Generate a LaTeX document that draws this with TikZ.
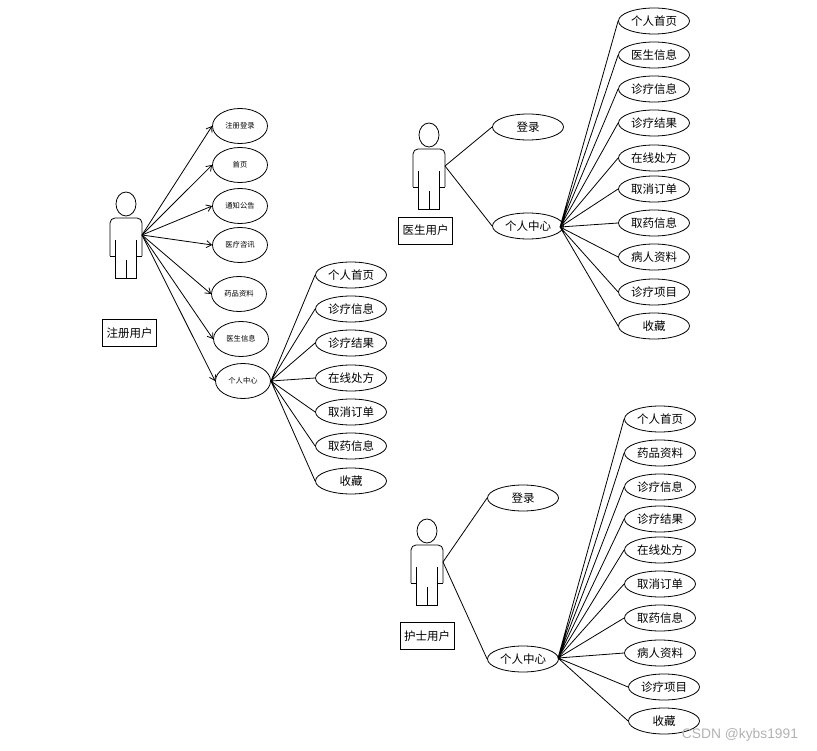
\documentclass[tikz,border=0pt]{standalone}
\usepackage{fontspec}
\setmainfont{Noto Sans CJK SC}
\newfontfamily\markfont{Liberation Sans}
\usetikzlibrary{shapes.geometric, arrows.meta}

\begin{document}
\begin{tikzpicture}[x=1pt, y=-1pt, line width=0.8pt,
    uc/.style={draw, ellipse, inner sep=0pt, minimum width=71pt, minimum height=26pt, font=\fontsize{11.5}{12}\selectfont},
    ucs/.style={draw, ellipse, inner sep=0pt, minimum width=55pt, minimum height=35pt, font=\fontsize{7.3}{8}\selectfont},
    role/.style={draw, inner sep=0pt, minimum width=54pt, minimum height=27pt, font=\fontsize{11.5}{12}\selectfont},
    actor/.pic={
        \draw (0,0) ellipse (10pt and 12pt);
        \draw[rounded corners=5pt] (-16,52) -- (-16,14) -- (16,14) -- (16,52);
        \draw (-16,52) -- (-11,52) (-11,36) -- (-11,74) -- (10,74) -- (10,36) (10,52) -- (16,52) (0,56) -- (0,74);
    },
    open/.style={-{Straight Barb[length=5pt, width=7pt]}}]
    \useasboundingbox (0,0) rectangle (817,751);

    % registered user
    \pic at (126,204) {actor};
    \coordinate (h1) at (142,235);
    \node[role] (r1) at (129.5,333) {注册用户};
    \node[ucs] (a1) at (240,126) {注册登录}; \node[ucs] (a2) at (240,165) {首页}; \node[ucs] (a3) at (240,206) {通知公告}; \node[ucs] (a4) at (240,245) {医疗咨讯};
    \node[ucs] (a5) at (239,294) {药品资料}; \node[ucs] (a6) at (241,339) {医生信息}; \node[ucs] (a7) at (243,381) {个人中心};
    \node[uc] (p1) at (351,275) {个人首页}; \node[uc] (p2) at (351,309) {诊疗信息}; \node[uc] (p3) at (351,343) {诊疗结果}; \node[uc] (p4) at (351,378) {在线处方};
    \node[uc] (p5) at (351,412) {取消订单}; \node[uc] (p6) at (351,446) {取药信息}; \node[uc] (p7) at (351,481) {收藏};
    \draw[open] (h1)--(a1.west); \draw[open] (h1)--(a2.west); \draw[open] (h1)--(a3.west); \draw[open] (h1)--(a4.west);
    \draw[open] (h1)--(a5.west); \draw[open] (h1)--(a6.west); \draw[open] (h1)--(a7.west);
    \draw (a7.east)--(p1.west) (a7.east)--(p2.west) (a7.east)--(p3.west) (a7.east)--(p4.west) (a7.east)--(p5.west) (a7.east)--(p6.west) (a7.east)--(p7.west);

    % doctor
    \pic at (429,135) {actor};
    \coordinate (h2) at (445,166);
    \coordinate (f2) at (560,227);
    \node[role] (r2) at (425.5,230.5) {医生用户};
    \node[uc] (b1) at (528,127) {登录}; \node[uc] (b2) at (528,226) {个人中心};
    \node[uc] (d1) at (654,21) {个人首页}; \node[uc] (d2) at (654,55) {医生信息}; \node[uc] (d3) at (654,89) {诊疗信息}; \node[uc] (d4) at (654,123) {诊疗结果}; \node[uc] (d5) at (654,158) {在线处方};
    \node[uc] (d6) at (654,189) {取消订单}; \node[uc] (d7) at (654,223) {取药信息}; \node[uc] (d8) at (654,257) {病人资料}; \node[uc] (d9) at (654,292) {诊疗项目}; \node[uc] (d10) at (654,326) {收藏};
    \draw (h2)--(b1.west) (h2)--(b2.west);
    \draw (f2)--(d1.west) (f2)--(d2.west) (f2)--(d3.west) (f2)--(d4.west) (f2)--(d5.west);
    \draw (f2)--(d6.west) (f2)--(d7.west) (f2)--(d8.west) (f2)--(d9.west) (f2)--(d10.west);

    % nurse
    \pic at (427,531) {actor};
    \coordinate (h3) at (443,562);
    \coordinate (f3) at (558,658);
    \node[role] (r3) at (427,636) {护士用户};
    \node[uc] (c1) at (523,498) {登录}; \node[uc] (c2) at (523,659) {个人中心};
    \node[uc] (n1) at (660,419) {个人首页}; \node[uc] (n2) at (660,453) {药品资料}; \node[uc] (n3) at (660,487) {诊疗信息}; \node[uc] (n4) at (660,519) {诊疗结果}; \node[uc] (n5) at (660,550) {在线处方};
    \node[uc] (n6) at (660,584) {取消订单}; \node[uc] (n7) at (660,618) {取药信息}; \node[uc] (n8) at (660,653) {病人资料}; \node[uc] (n9) at (664,687) {诊疗项目}; \node[uc] (n10) at (664,721) {收藏};
    \draw (h3)--(c1.west) (h3)--(c2.west);
    \draw (f3)--(n1.west) (f3)--(n2.west) (f3)--(n3.west) (f3)--(n4.west) (f3)--(n5.west);
    \draw (f3)--(n6.west) (f3)--(n7.west) (f3)--(n8.west) (f3)--(n9.west) (f3)--(n10.west);

    \node[text=black!30, font=\markfont\fontsize{13.8}{14}\selectfont] (wm) at (740,735) {CSDN @kybs1991};
\end{tikzpicture}
\end{document}
